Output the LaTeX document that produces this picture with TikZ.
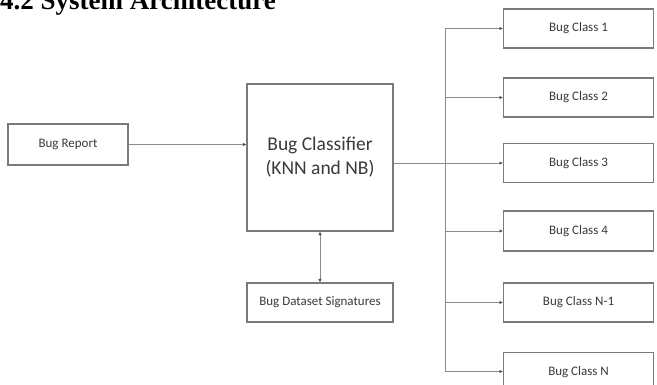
\documentclass[tikz,border=0pt]{standalone}
\usepackage{fontspec}
\setmainfont{Carlito}
\newfontfamily\titlefont{Liberation Serif}
\usetikzlibrary{arrows.meta}
\definecolor{boxline}{HTML}{7A7A7A}
\definecolor{conline}{HTML}{8C8C8C}
\definecolor{txt}{HTML}{3A3A3A}
\tikzset{
  box/.style={draw=boxline, line width=1.1pt, fill=white, text=txt, inner sep=0pt, align=center},
  smallbox/.style={box, font=\fontsize{13}{15}\selectfont},
  conn/.style={draw=conline, line width=0.8pt},
  arr/.style={conn, -{Latex[length=3.5pt,width=3.5pt,black!70]}},
  darr/.style={conn, {Latex[length=3.5pt,width=3.5pt,black!70]}-{Latex[length=3.5pt,width=3.5pt,black!70]}}
}
\begin{document}
\begin{tikzpicture}[x=1pt,y=-1pt]
\clip (0,0) rectangle (657,385);
\fill[white] (0,0) rectangle (657,385);
\node[anchor=base west, inner sep=0pt, font=\titlefont\bfseries\fontsize{27}{31}\selectfont] (title) at (0,9.5) {4.2 System Architecture};
\node[smallbox, minimum width=120, minimum height=41] (br) at (68,144.5) {Bug Report};
\node[box, minimum width=146, minimum height=147, font=\fontsize{19.5}{24}\selectfont] (cl) at (320,157.5) {Bug Classifier\\(KNN and NB)};
\node[smallbox, minimum width=146, minimum height=39] (ds) at (320,302.5) {Bug Dataset Signatures};
\node[smallbox, minimum width=150, minimum height=39, anchor=west] (c1) at (503,28.5) {Bug Class 1};
\node[smallbox, minimum width=150, minimum height=39, anchor=west] (c2) at (503,97.5) {Bug Class 2};
\node[smallbox, minimum width=150, minimum height=39, anchor=west] (c3) at (503,163) {Bug Class 3};
\node[smallbox, minimum width=150, minimum height=40, anchor=west] (c4) at (503,231) {Bug Class 4};
\node[smallbox, minimum width=150, minimum height=39, anchor=west] (c5) at (503,302.5) {Bug Class N-1};
\node[smallbox, minimum width=150, minimum height=39, anchor=north west] (c6) at (503,352) {Bug Class N};
\coordinate (j1) at (445,28.5);
\coordinate (jc) at (445,163);
\coordinate (j6) at (445,371.5);
\draw[arr] (br.east) -- (br.east -| cl.west);
\draw[darr] (cl.south) -- (ds.north);
\draw[conn] (cl.east |- jc) -- (jc);
\draw[conn] (j1) -- (j6);
\foreach \c in {c1,c2,c3,c4,c5}{
  \draw[arr] (j1 |- \c.west) -- (\c.west);
}
\draw[arr] (j6) -- (j6 -| c6.west);
\end{tikzpicture}
\end{document}
